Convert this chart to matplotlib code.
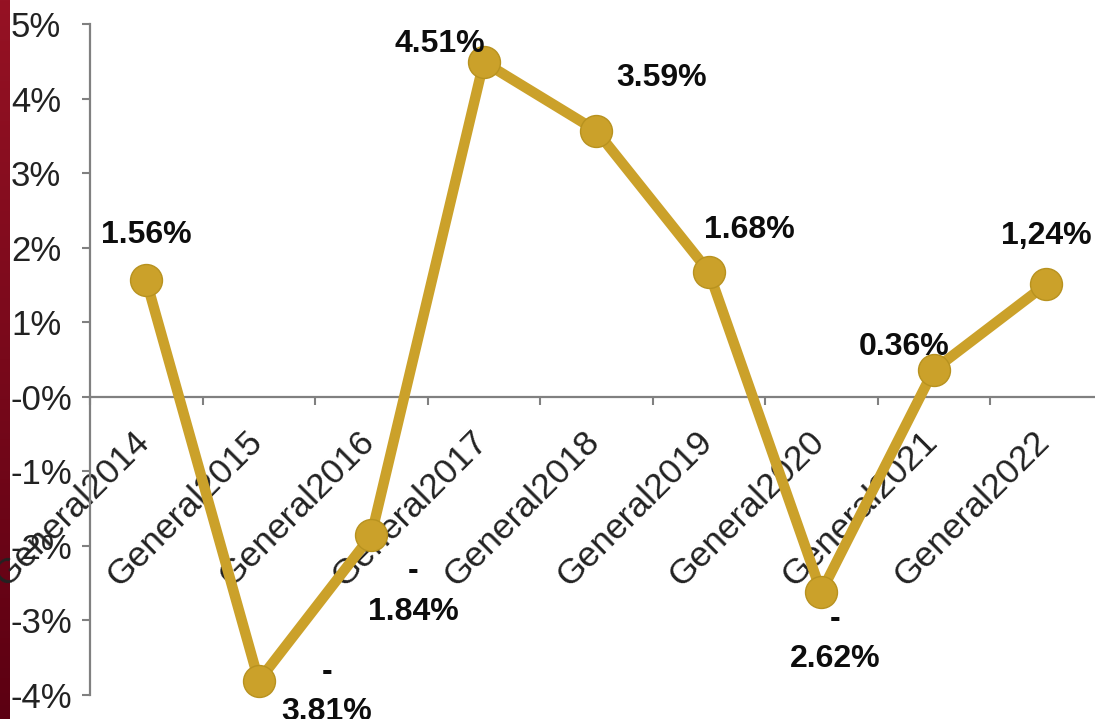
import matplotlib
matplotlib.use('Agg')
import matplotlib.pyplot as plt
import matplotlib.transforms as mtransforms
from matplotlib.colors import LinearSegmentedColormap
import numpy as np

years = ['General2014', 'General2015', 'General2016', 'General2017', 'General2018',
         'General2019', 'General2020', 'General2021', 'General2022']
values = [1.56, -3.81, -1.86, 4.49, 3.57, 1.68, -2.62, 0.36, 1.51]
point_labels = ['1.56%', '-\n3.81%', '-\n1.84%', '4.51%', '3.59%',
                '1.68%', '-\n2.62%', '0.36%', '1,24%']
ytick_vals = [5, 4, 3, 2, 1, 0, -1, -2, -3, -4]
ytick_text = ['5%', '4%', '3%', '2%', '1%', '-0%', '-1%', '-2%', '-3%', '-4%']

# label offsets from each point, pixels
label_offsets = [(0, 45), (68, -11), (42, -56), (-44, 18), (65, 53),
                 (41, 42), (14, -47), (-30, 23), (0, 48)]

plt.rcParams['font.family'] = ['Liberation Sans', 'DejaVu Sans']

W, H = 1095, 719
fig = plt.figure(figsize=(W / 100, H / 100), dpi=100)
fig.patch.set_facecolor('white')

# dark red strip on the left edge
strip = fig.add_axes([0, 0, 10 / W, 1])
grad = np.linspace(0, 1, 256).reshape(-1, 1)
cm = LinearSegmentedColormap.from_list('strip', ['#961224', '#5c0012'])
strip.imshow(grad, aspect='auto', cmap=cm, extent=[0, 1, 0, 1], origin='upper')
strip.axis('off')

left = 90 / W
right = (90 + 9 * 112.5) / W
bottom = (H - 695) / H
top = (H - 24) / H
ax = fig.add_axes([left, bottom, right - left, top - bottom])

x = np.arange(len(years))
gold = '#CBA12A'
ax.plot(x, values, color=gold, lw=7.5, marker='o', ms=23,
        mfc=gold, mec='#B8921F', mew=1, solid_capstyle='round',
        clip_on=False, zorder=3)

for xi, v, lab, (dx, dy) in zip(x, values, point_labels, label_offsets):
    ax.annotate(lab, (xi, v), xytext=(dx, dy), textcoords='offset pixels',
                ha='center', va='center', multialignment='center',
                fontsize=23, fontweight='bold', color='#0d0d0d',
                linespacing=1.45, zorder=4, annotation_clip=False)

ax.set_xlim(-0.5, len(years) - 0.5)
ax.set_ylim(-4, 5)

gray = '#808080'
for s in ['top', 'right']:
    ax.spines[s].set_visible(False)
ax.spines['left'].set_color(gray)
ax.spines['left'].set_linewidth(1.6)
ax.spines['bottom'].set_position(('data', 0))
ax.spines['bottom'].set_color(gray)
ax.spines['bottom'].set_linewidth(1.6)

ax.set_yticks(ytick_vals)
ax.set_yticklabels(ytick_text)
ax.tick_params(axis='y', direction='out', length=6, width=1.5, color=gray,
               pad=50.9, labelsize=25, labelcolor='#222222')
for t in ax.get_yticklabels():
    t.set_horizontalalignment('left')

ax.set_xticks(np.arange(len(years) + 1) - 0.5)
ax.set_xticklabels([])
ax.tick_params(axis='x', which='major', direction='out', length=6,
               width=1.5, color=gray)
ax.set_xticks(x, minor=True)
ax.set_xticklabels(years, minor=True, rotation=45, ha='right')
ax.tick_params(axis='x', which='minor', length=0, pad=20, labelsize=25.5,
               labelcolor='#222222')
shift = mtransforms.ScaledTranslation(10 / 100, 0, fig.dpi_scale_trans)
for t in ax.get_xticklabels(minor=True):
    t.set_transform(t.get_transform() + shift)

fig.savefig('out.png', dpi=100)
